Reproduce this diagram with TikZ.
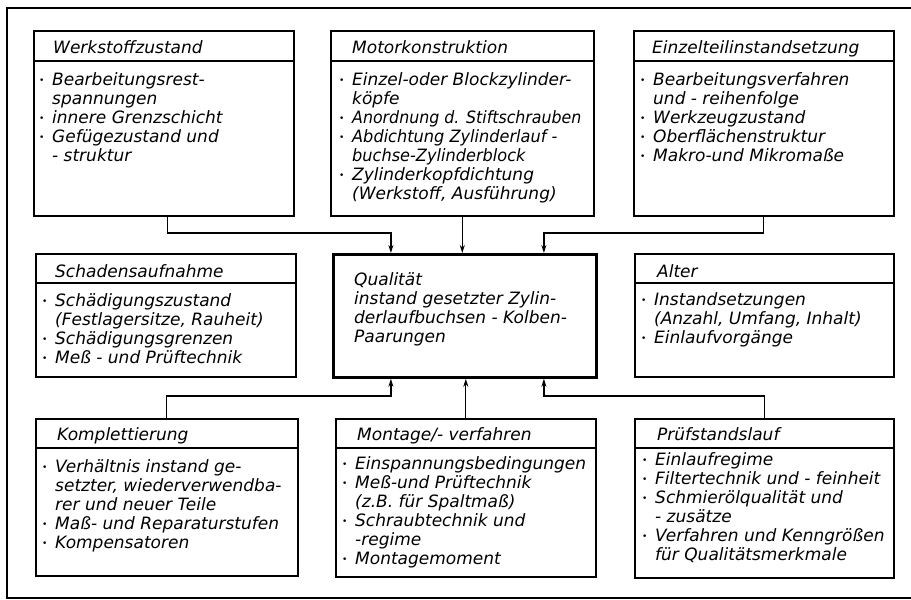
\documentclass[tikz,border=0pt]{standalone}
\usepackage{fontspec}
\setmainfont{DejaVu Sans}
\usetikzlibrary{arrows.meta}
\newcommand\bl{\makebox[13pt][l]{\raisebox{1.5pt}{\fontsize{9}{9}\selectfont\textbullet}}}
\newcommand\ct{\hspace*{13pt}}
\newcommand\fs{\rule{0pt}{14pt}}
\tikzset{
  box/.style={draw, line width=1.6pt, rectangle, inner sep=0pt, anchor=north west},
  cbox/.style={draw, line width=2.8pt, rectangle, inner sep=0pt, anchor=north west},
  hdr/.style={anchor=base west, inner sep=0pt, font=\fontsize{17}{19}\selectfont\itshape},
  body/.style={anchor=north west, inner sep=0pt, align=left, font=\fontsize{17}{19}\selectfont\itshape},
  hline/.style={line width=1.6pt},
  arr/.style={line width=1.2pt, -{Stealth[length=8pt,width=5pt]}},
  frame/.style={line width=1.8pt}
}
\begin{document}
\begin{tikzpicture}[x=1pt,y=-1pt]
\useasboundingbox (0,0) rectangle (911,600);
\draw[frame] (911,8) -- (7,8) -- (7,598) -- (911,598);

% boxes
\node[box, minimum width=260pt, minimum height=185pt] (tl) at (33,30) {};
\node[box, minimum width=263pt, minimum height=185pt] (tm) at (330,30) {};
\node[box, minimum width=260pt, minimum height=185pt] (tr) at (633,30) {};
\node[box, minimum width=260pt, minimum height=123pt] (ml) at (35,253) {};
\node[cbox, minimum width=263pt, minimum height=123pt] (c) at (332,253) {};
\node[box, minimum width=259pt, minimum height=123pt] (mr) at (634,253) {};
\node[box, minimum width=262pt, minimum height=157pt] (bl) at (35,418) {};
\node[box, minimum width=260pt, minimum height=158pt] (bm) at (335,418) {};
\node[box, minimum width=259pt, minimum height=159pt] (br) at (634,418) {};

% header rules
\foreach \n/\d in {tl/31,tm/31,tr/31,ml/30,mr/30,bl/30,bm/30,br/30}{
  \draw[hline] ([yshift=-\d pt]\n.north west) -- ([yshift=-\d pt]\n.north east);
}

% headers
\node[hdr] (tlh) at (53,53) {Werkstoffzustand};
\node[hdr] (tmh) at (352,53) {Motorkonstruktion};
\node[hdr] (trh) at (652,53) {Einzelteilinstandsetzung};
\node[hdr] (mlh) at (55,277) {Schadensaufnahme};
\node[hdr] (mrh) at (657,277) {Alter};
\node[hdr] (blh) at (57,440) {Komplettierung};
\node[hdr] (bmh) at (357,440) {Montage/- verfahren};
\node[hdr] (brh) at (657,440) {Prüfstandslauf};

% bodies
\node[body] (tlt) at (39,71) {\fs\bl Bearbeitungsrest-\\ \ct spannungen\\ \bl innere Grenzschicht\\ \bl Gefügezustand und\\ \ct - struktur};
\node[body] (tmt) at (339,71) {\fs\bl Einzel-oder Blockzylinder-\\ \ct köpfe\\ \bl \scalebox{0.93}[1]{Anordnung d. Stiftschrauben}\\ \bl \scalebox{0.95}[1]{Abdichtung Zylinderlauf -}\\ \ct \scalebox{0.95}[1]{buchse-Zylinderblock}\\ \bl Zylinderkopfdichtung\\ \ct (Werkstoff, Ausführung)};
\node[body] (trt) at (640,71) {\fs\bl Bearbeitungsverfahren\\ \ct und - reihenfolge\\ \bl Werkzeugzustand\\ \bl Oberflächenstruktur\\ \bl Makro-und Mikromaße};
\node[body] (mlt) at (42,292) {\fs\bl Schädigungszustand\\ \ct (Festlagersitze, Rauheit)\\ \bl Schädigungsgrenzen\\ \bl Meß - und Prüftechnik};
\node[body] (ct) at (354,271) {\fs Qualität\\ instand gesetzter Zylin-\\ derlaufbuchsen - Kolben-\\ Paarungen};
\node[body] (mrt) at (641,291) {\fs\bl Instandsetzungen\\ \ct (Anzahl, Umfang, Inhalt)\\ \bl Einlaufvorgänge};
\node[body] (blt) at (42,458) {\fs\bl Verhältnis instand ge-\\ \ct setzter, wiederverwendba-\\ \ct rer und neuer Teile\\ \bl Maß- und Reparaturstufen\\ \bl Kompensatoren};
\node[body] (bmt) at (342,455) {\fs\bl Einspannungsbedingungen\\ \bl Meß-und Prüftechnik\\ \ct (z.B. für Spaltmaß)\\ \bl Schraubtechnik und\\ \ct -regime\\ \bl Montagemoment};
\node[body] (brt) at (642,451) {\fs\bl Einlaufregime\\ \bl Filtertechnik und - feinheit\\ \bl Schmierölqualität und\\ \ct - zusätze\\ \bl Verfahren und Kenngrößen\\ \ct für Qualitätsmerkmale};

% connectors
\coordinate (ja) at (0,233);
\coordinate (jb) at (0,396);
\coordinate (tlo) at ([xshift=4pt]tl.south);
\coordinate (cna) at ([xshift=-74pt]c.north);
\coordinate (cnb) at ([xshift=79pt]c.north);
\coordinate (csa) at ([xshift=-74pt]c.south);
\coordinate (csb) at ([xshift=79pt]c.south);
\draw[arr] (tlo) -- (tlo |- ja) -| (cna);
\draw[arr] (tm.south) -- (tm.south |- c.north);
\draw[arr] (tr.south) -- (tr.south |- ja) -| (cnb);
\draw[arr] (bl.north) -- (bl.north |- jb) -| (csa);
\draw[arr] (bm.north) -- (bm.north |- c.south);
\draw[arr] (br.north) -- (br.north |- jb) -| (csb);
\end{tikzpicture}
\end{document}
